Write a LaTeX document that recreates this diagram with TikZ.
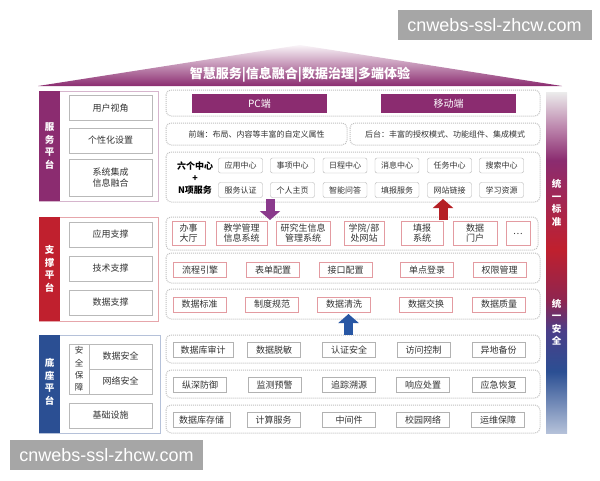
\documentclass[tikz,border=0pt]{standalone}
\usepackage{fontspec}
\setmainfont{Noto Sans CJK SC}
\newfontfamily\wmfont{Liberation Sans}
\usetikzlibrary{arrows.meta}

\definecolor{purp}{HTML}{8B2C70}
\definecolor{redc}{HTML}{C0202E}
\definecolor{bluec}{HTML}{2B4F93}
\definecolor{sbviolet}{HTML}{4A3E88}
\definecolor{sbwine}{HTML}{8E2550}
\definecolor{txt}{HTML}{333333}
\definecolor{arrpurp}{HTML}{8A3A8C}
\definecolor{arrred}{HTML}{B52025}
\definecolor{arrblue}{HTML}{2857A4}
\definecolor{wmgray}{HTML}{A6A6A6}

\pgfdeclareverticalshading{sidebar}{100bp}{color(0bp)=(bluec!35); color(25bp)=(bluec!35); color(34bp)=(bluec); color(40bp)=(sbviolet); color(44.5bp)=(sbwine); color(52bp)=(redc); color(65bp)=(purp); color(69.5bp)=(purp!60); color(75bp)=(gray!15); color(100bp)=(gray!15)}

\tikzset{
	sidebox/.style={draw=gray!55, fill=white, text=txt, font=\fontsize{9}{10.5}\selectfont, minimum width=83, minimum height=25, inner sep=0, align=center},
	bandtext/.style={text=white, font=\bfseries\fontsize{9.5}{12.5}\selectfont, align=center, inner sep=0},
	dotframe/.style={draw=gray!50, densely dotted, line width=1, rounded corners=5},
	endbar/.style={fill=purp, text=white, font=\fontsize{10}{12}\selectfont, minimum width=135, minimum height=19, inner sep=0},
	centerbox/.style={draw=gray!60, rounded corners=2, fill=white, text=txt, font=\fontsize{8}{9}\selectfont, minimum width=44, minimum height=15, inner sep=0},
	appbox/.style={draw=redc!45, fill=white, text=txt, font=\fontsize{9}{10}\selectfont, minimum height=24, inner sep=0, align=center},
	techbox/.style={draw=redc!45, fill=white, text=txt, font=\fontsize{9}{10}\selectfont, minimum width=53, minimum height=15, inner sep=0},
	basebox/.style={draw=gray!60, fill=white, text=txt, font=\fontsize{9}{10}\selectfont, minimum width=53, minimum height=15, inner sep=0},
	blockarrow/.style={line width=9pt, -{Triangle[width=20pt,length=9pt]}},
	wmark/.style={fill=wmgray, text=white, font=\wmfont\fontsize{18}{20}\selectfont, minimum width=194, minimum height=30, inner sep=0}
}

\begin{document}
\begin{tikzpicture}[x=1pt,y=-1pt]
	\useasboundingbox (0,0) rectangle (600,480);
	% roof
	\shade[top color=purp!5, middle color=purp!75, bottom color=purp] (38,86) -- (300,45) -- (562,86) -- cycle;
	\node[text=white, font=\bfseries\fontsize{13}{15}\selectfont] (roof) at (300,75) {智慧服务|信息融合|数据治理|多端体验};

	% right bar
	\shade[shading=sidebar] (546,92) rectangle (567,433);
	\node[bandtext] (tybz) at (556.5,203) {统\\一\\标\\准};
	\node[bandtext] (tyaq) at (556.5,322) {统\\一\\安\\全};

	% left column
	\draw[draw=purp!35, fill=white] (39,91) rectangle (158,201);
	\fill[purp] (39,91) rectangle (60,201);
	\node[bandtext] (fwpt) at (49.5,146) {服\\务\\平\\台};
	\node[sidebox] (yhsj) at (110.5,108) {用户视角};
	\node[sidebox] (gxhsz) at (110.5,140.5) {个性化设置};
	\node[sidebox, minimum height=37] (xtjc) at (110.5,177.5) {系统集成\\信息融合};

	\draw[draw=redc!40, fill=white] (39,217) rectangle (158,321);
	\fill[redc] (39,217) rectangle (60,321);
	\node[bandtext] (zcpt) at (49.5,269) {支\\撑\\平\\台};
	\node[sidebox] (yyzc) at (110.5,234.5) {应用支撑};
	\node[sidebox] (jszc) at (110.5,268.5) {技术支撑};
	\node[sidebox] (sjzc) at (110.5,302.5) {数据支撑};

	\draw[draw=bluec!35, fill=white] (39,335) rectangle (160,433);
	\fill[bluec] (39,335) rectangle (60,433);
	\node[bandtext] (dzpt) at (49.5,382) {底\\座\\平\\台};
	\node[sidebox, minimum width=20, minimum height=50, font=\fontsize{8.5}{12.3}\selectfont] (aqbz) at (79,369) {安\\全\\保\\障};
	\node[sidebox, minimum width=63] (sjaq) at (120.5,356.5) {数据安全};
	\node[sidebox, minimum width=63] (wlaq) at (120.5,381.5) {网络安全};
	\node[sidebox] (jcss) at (110.5,415.5) {基础设施};

	% service layer
	\draw[dotframe] (166,90) rectangle (540,116);
	\node[endbar] (pcd) at (259.5,103.5) {PC端};
	\node[endbar] (ydd) at (448.5,103.5) {移动端};

	\draw[dotframe] (166,123) rectangle (347,145);
	\draw[dotframe] (350,123) rectangle (540,145);
	\node[text=txt, font=\fontsize{8}{9}\selectfont] (qd) at (256.5,134) {前端：布局、内容等丰富的自定义属性};
	\node[text=txt, font=\fontsize{8}{9}\selectfont] (ht) at (445,134) {后台：丰富的授权模式、功能组件、集成模式};

	\draw[dotframe] (166,152) rectangle (540,202);
	\node[text=black, font=\bfseries\fontsize{9}{12}\selectfont, align=center, inner sep=0] (lgzx) at (195,178) {六个中心\\+\\N项服务};
	\node[centerbox] (yyzx) at (240.5,165.5) {应用中心};
	\node[centerbox] (sxzx) at (292.5,165.5) {事项中心};
	\node[centerbox] (rczx) at (345,165.5) {日程中心};
	\node[centerbox] (xxzx) at (397,165.5) {消息中心};
	\node[centerbox] (rwzx) at (449.5,165.5) {任务中心};
	\node[centerbox] (sszx) at (501.5,165.5) {搜索中心};
	\node[centerbox] (fwrz) at (240.5,190) {服务认证};
	\node[centerbox] (grzy) at (292.5,190) {个人主页};
	\node[centerbox] (znwd) at (345,190) {智能问答};
	\node[centerbox] (tbfw) at (397,190) {填报服务};
	\node[centerbox] (wzlj) at (449.5,190) {网站链接};
	\node[centerbox] (xxzy) at (501.5,190) {学习资源};

	% support layer
	\draw[dotframe] (166,217) rectangle (538,250);
	\node[appbox, minimum width=33] (bsdt) at (188.5,233.5) {办事\\大厅};
	\node[appbox, minimum width=51] (jxgl) at (241.5,233.5) {教学管理\\信息系统};
	\node[appbox, minimum width=54] (yjs) at (303,233.5) {研究生信息\\管理系统};
	\node[appbox, minimum width=40] (xywz) at (364,233.5) {学院/部\\处网站};
	\node[appbox, minimum width=42] (tbxt) at (422,233.5) {填报\\系统};
	\node[appbox, minimum width=44] (sjmh) at (475,233.5) {数据\\门户};
	\node[appbox, minimum width=24] (more) at (518,233.5) {…};

	\draw[dotframe] (166,253) rectangle (540,283);
	\node[techbox] (lcyq) at (200,270) {流程引擎};
	\node[techbox] (bdpz) at (273,270) {表单配置};
	\node[techbox] (jkpz) at (345.5,270) {接口配置};
	\node[techbox] (dddl) at (427,270) {单点登录};
	\node[techbox] (qxgl) at (499.5,270) {权限管理};

	\draw[dotframe] (166,289) rectangle (540,319);
	\node[techbox] (sjbz) at (199.5,304.5) {数据标准};
	\node[techbox] (zdgf) at (272,304.5) {制度规范};
	\node[techbox] (sjqx) at (344,304.5) {数据清洗};
	\node[techbox] (sjjh) at (426,304.5) {数据交换};
	\node[techbox] (sjzl) at (499,304.5) {数据质量};

	% base layer
	\draw[dotframe] (166,335) rectangle (540,363);
	\node[basebox, minimum width=60] (sjksj) at (203,350) {数据库审计};
	\node[basebox] (sjtm) at (274,350) {数据脱敏};
	\node[basebox] (rzaq) at (349,350) {认证安全};
	\node[basebox] (fwkz) at (423.5,350) {访问控制};
	\node[basebox] (ydbf) at (498.5,350) {异地备份};

	\draw[dotframe] (166,370) rectangle (540,398);
	\node[basebox] (zsfy) at (200,385) {纵深防御};
	\node[basebox] (jcyj) at (274.5,385) {监测预警};
	\node[basebox] (zzsy) at (349,385) {追踪溯源};
	\node[basebox] (xycz) at (423,385) {响应处置};
	\node[basebox] (yjhf) at (498.5,385) {应急恢复};

	\draw[dotframe] (166,405) rectangle (540,433);
	\node[basebox, minimum width=57] (sjkcc) at (201.5,420) {数据库存储};
	\node[basebox] (jsfw) at (273.5,420) {计算服务};
	\node[basebox] (zjj) at (349,420) {中间件};
	\node[basebox] (xywl) at (423,420) {校园网络};
	\node[basebox] (ywbz) at (498,420) {运维保障};

	% arrows between layers
	\coordinate (pa1) at (270,199);
	\coordinate (pa2) at (270,220);
	\coordinate (ra1) at (443,220);
	\coordinate (ra2) at (443,199);
	\coordinate (ba1) at (348.5,335);
	\coordinate (ba2) at (348.5,314);
	\draw[blockarrow, arrpurp] (pa1) -- (pa2);
	\draw[blockarrow, arrred] (ra1) -- (ra2);
	\draw[blockarrow, arrblue] (ba1) -- (ba2);

	% watermarks
	\node[wmark] (wm1) at (494.5,25) {cnwebs-ssl-zhcw.com};
	\node[wmark, minimum width=193] (wm2) at (106.5,455) {cnwebs-ssl-zhcw.com};
\end{tikzpicture}
\end{document}
